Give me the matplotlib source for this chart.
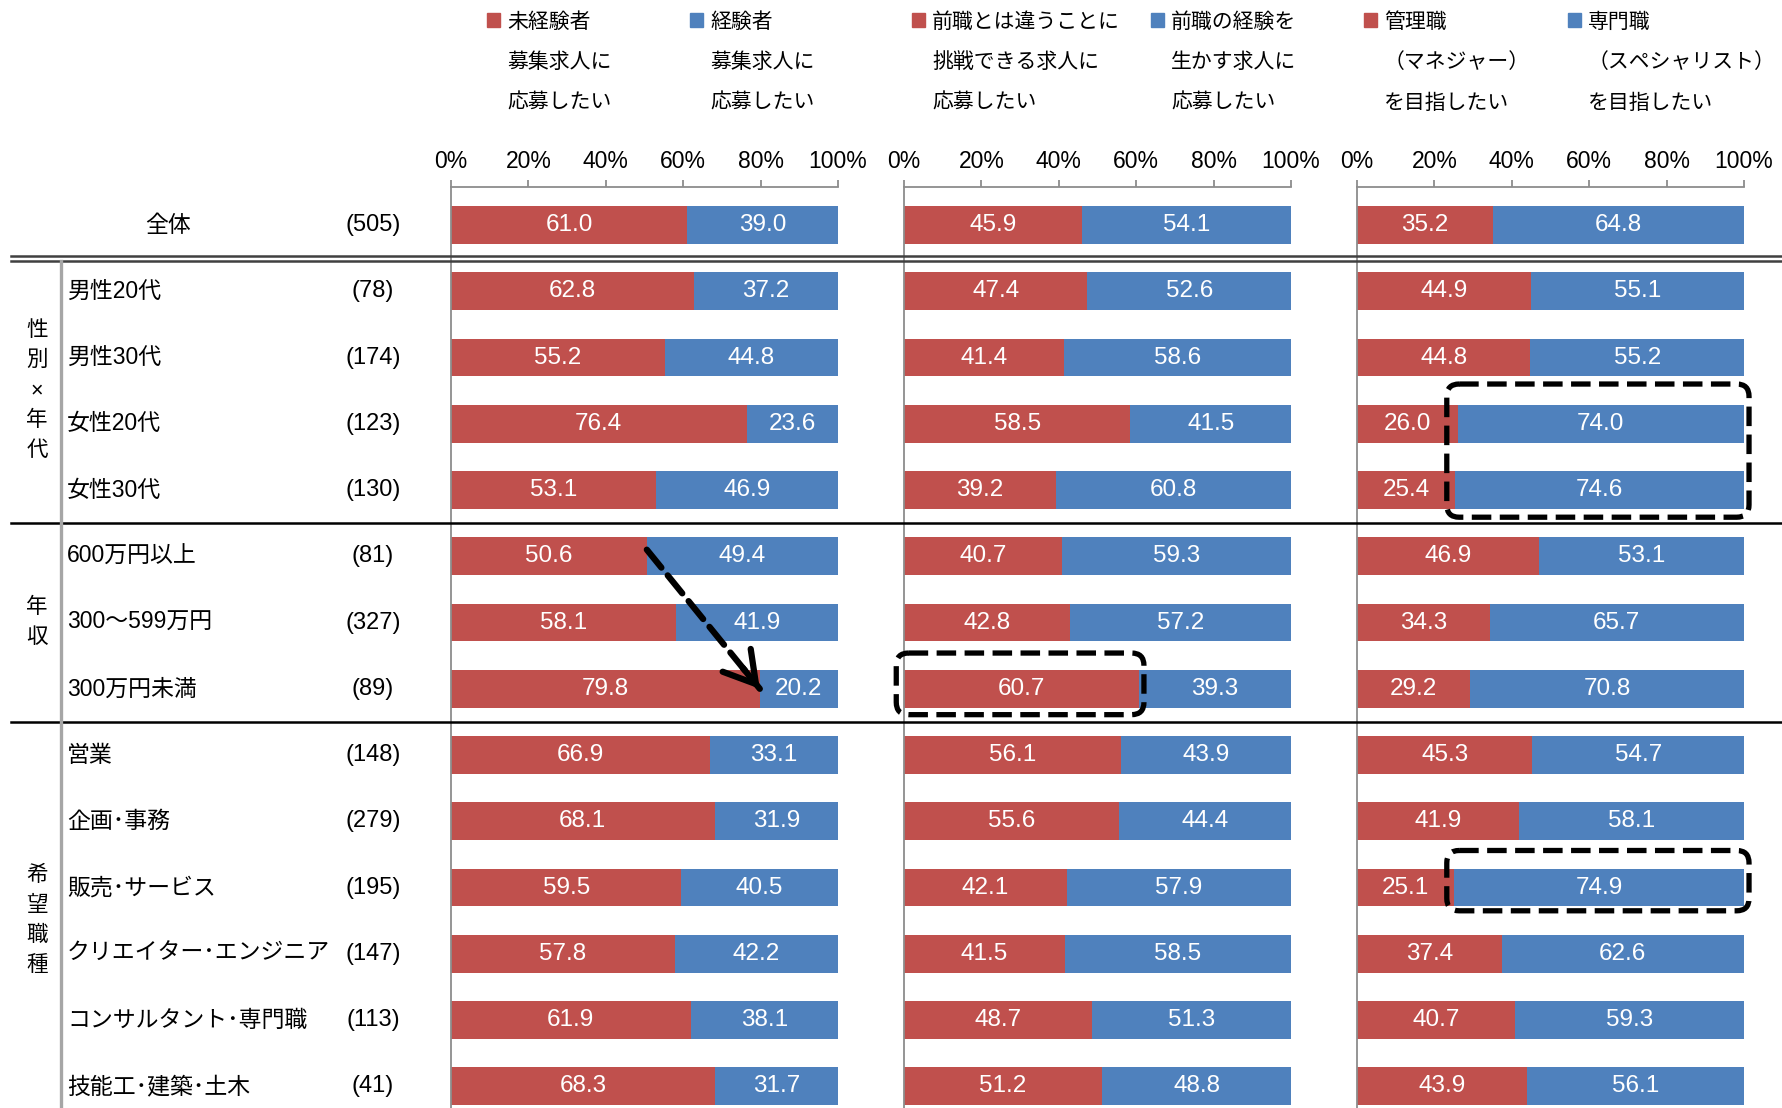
import matplotlib
matplotlib.use("Agg")
import matplotlib.pyplot as plt
import numpy as np
from matplotlib.patches import FancyBboxPatch, Rectangle
from matplotlib.lines import Line2D
from matplotlib.transforms import blended_transform_factory

plt.rcParams["font.family"] = ["Liberation Sans", "Noto Sans CJK JP"]

# ---- data -------------------------------------------------------------
rows = ["全体", "男性20代", "男性30代", "女性20代", "女性30代",
        "600万円以上", "300～599万円", "300万円未満",
        "営業", "企画･事務", "販売･サービス", "クリエイター･エンジニア",
        "コンサルタント･専門職", "技能工･建築･土木"]
n_resp = [505, 78, 174, 123, 130, 81, 327, 89, 148, 279, 195, 147, 113, 41]

groups = ["性別×年代", "年収", "希望職種"]
group_rows = [(1, 4), (5, 7), (8, 13)]

inexperienced = [61.0, 62.8, 55.2, 76.4, 53.1, 50.6, 58.1, 79.8, 66.9, 68.1, 59.5, 57.8, 61.9, 68.3]
experienced   = [39.0, 37.2, 44.8, 23.6, 46.9, 49.4, 41.9, 20.2, 33.1, 31.9, 40.5, 42.2, 38.1, 31.7]
new_challenge = [45.9, 47.4, 41.4, 58.5, 39.2, 40.7, 42.8, 60.7, 56.1, 55.6, 42.1, 41.5, 48.7, 51.2]
use_career    = [54.1, 52.6, 58.6, 41.5, 60.8, 59.3, 57.2, 39.3, 43.9, 44.4, 57.9, 58.5, 51.3, 48.8]
manager       = [35.2, 44.9, 44.8, 26.0, 25.4, 46.9, 34.3, 29.2, 45.3, 41.9, 25.1, 37.4, 40.7, 43.9]
specialist    = [64.8, 55.1, 55.2, 74.0, 74.6, 53.1, 65.7, 70.8, 54.7, 58.1, 74.9, 62.6, 59.3, 56.1]

legend_red = [["未経験者", "募集求人に", "応募したい"],
              ["前職とは違うことに", "挑戦できる求人に", "応募したい"],
              ["管理職", "（マネジャー）", "を目指したい"]]
legend_blue = [["経験者", "募集求人に", "応募したい"],
               ["前職の経験を", "生かす求人に", "応募したい"],
               ["専門職", "（スペシャリスト）", "を目指したい"]]

ticks = [0, 20, 40, 60, 80, 100]

# ---- layout (pixels) --------------------------------------------------
W, H = 1782, 1108
RED, BLUE = "#C0504D", "#4F81BD"
GRAY = "#8C8C8C"
panel_left = [451, 904, 1357]
panel_w = 387
ax_top = 187
row0, step = 225.0, 66.26
ylim = ((H - row0) / step, -(row0 - ax_top) / step)
ypos = np.arange(len(rows))

fig = plt.figure(figsize=(W / 100, H / 100), dpi=100)
fig.patch.set_facecolor("white")

pairs = [(inexperienced, experienced), (new_challenge, use_career), (manager, specialist)]
axes = []
for k, (reds, blues) in enumerate(pairs):
    ax = fig.add_axes([panel_left[k] / W, 0, panel_w / W, (H - ax_top) / H])
    ax.patch.set_visible(False)
    ax.barh(ypos, reds, height=0.57, color=RED)
    ax.barh(ypos, blues, left=reds, height=0.57, color=BLUE)
    for y, r, b in zip(ypos, reds, blues):
        ax.text(r / 2, y, f"{r:.1f}", ha="center", va="center", color="white", fontsize=17.5)
        ax.text(r + b / 2, y, f"{b:.1f}", ha="center", va="center", color="white", fontsize=17.5)
    ax.set_xlim(0, 100)
    ax.set_ylim(*ylim)
    ax.xaxis.tick_top()
    ax.set_xticks(ticks)
    ax.set_xticklabels([f"{t}%" for t in ticks])
    ax.set_yticks([])
    for s in ("right", "bottom"):
        ax.spines[s].set_visible(False)
    for s in ("top", "left"):
        ax.spines[s].set_color(GRAY)
        ax.spines[s].set_linewidth(1.3)
    ax.tick_params(axis="x", direction="out", length=5, width=1.3, color=GRAY,
                   pad=5, labelsize=16.5)
    axes.append(ax)

ax1 = axes[0]
tr = blended_transform_factory(fig.transFigure, ax1.transData)

# row labels and sample sizes
for y, name, n in zip(ypos, rows, n_resp):
    if y == 0:
        ax1.text(168 / W, y, name, ha="center", va="center", fontsize=16.5, transform=tr)
    else:
        ax1.text(67 / W, y, name, ha="left", va="center", fontsize=16.5, transform=tr)
    ax1.text(373 / W, y, f"({n})", ha="center", va="center", fontsize=17, transform=tr)

# vertical group labels
char_step = 0.453
for g, (a, b) in zip(groups, group_rows):
    mid = (a + b) / 2
    for i, ch in enumerate(g):
        yy = mid + (i - (len(g) - 1) / 2) * char_step
        ax1.text(37 / W, yy, ch, ha="center", va="center", fontsize=15.5, transform=tr)

# separators
for yy in (0.471, 0.539):
    fig.add_artist(Line2D([11 / W, 1], [yy, yy], transform=tr, color="#404040", lw=1.8))
for yy in (4.5, 7.5):
    fig.add_artist(Line2D([11 / W, 1], [yy, yy], transform=tr, color="black", lw=1.8))
fig.add_artist(Line2D([61 / W, 61 / W], [0.55, ylim[0]], transform=tr, color="#A6A6A6", lw=2.4))

# legend header
legend_x = [507, 710, 932, 1171, 1384, 1588]
line_y = [22, 62, 103]
entries = []
for r, b in zip(legend_red, legend_blue):
    entries += [(r, RED), (b, BLUE)]
for x, (lines, col) in zip(legend_x, entries):
    fig.add_artist(Rectangle(((x - 20) / W, 1 - 27 / H), 13 / W, 14 / H,
                             transform=fig.transFigure, color=col))
    for ly, txt in zip(line_y, lines):
        fig.text(x / W, 1 - ly / H, txt, ha="left", va="center", fontsize=15)

# dashed highlight boxes
aspect = (panel_w / 100) / step


def dashed_box(ax, x0, x1, y0, y1):
    box = FancyBboxPatch((x0, y0), x1 - x0, y1 - y0,
                         boxstyle="round,pad=0,rounding_size=3.2",
                         mutation_aspect=aspect, fill=False, ec="black",
                         lw=3.8, ls="--", clip_on=False, zorder=5)
    ax.add_patch(box)


dashed_box(axes[1], -2, 62, 6.46, 7.39)
dashed_box(axes[2], 23.2, 101.3, 2.40, 4.41)
dashed_box(axes[2], 23.2, 101.3, 9.44, 10.35)

# dashed arrow in first panel
start = np.array([inexperienced[5], 4.9])
tip = np.array([inexperienced[7], 7.0])
ax1.annotate("", xy=tip, xytext=start,
             arrowprops=dict(arrowstyle="-", lw=4.5, ls="--", color="black",
                             shrinkA=0, shrinkB=0), annotation_clip=False)
back = tip + (start - tip) * 0.15
ax1.annotate("", xy=tip, xytext=back,
             arrowprops=dict(arrowstyle="->,head_length=1.1,head_width=0.65",
                             mutation_scale=20, lw=4.5, color="black",
                             shrinkA=0, shrinkB=0), annotation_clip=False)

fig.savefig("out.png", dpi=100, facecolor="white")
